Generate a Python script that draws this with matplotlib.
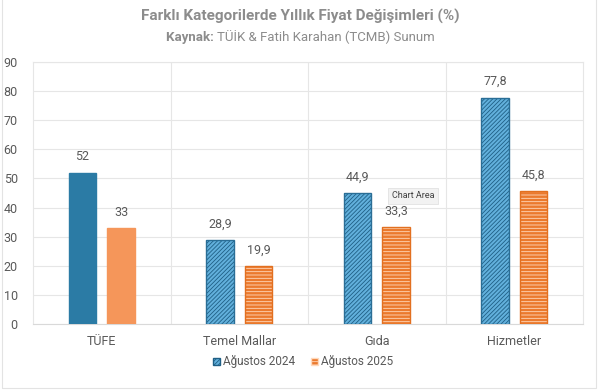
import matplotlib
matplotlib.use("Agg")
import matplotlib.pyplot as plt
import numpy as np
from matplotlib.patches import Patch, Rectangle

categories = ["TÜFE", "Temel Mallar", "Gıda", "Hizmetler"]
aug2024 = [52, 28.9, 44.9, 77.8]
aug2025 = [33, 19.9, 33.3, 45.8]
labels2024 = ["52", "28,9", "44,9", "77,8"]
labels2025 = ["33", "19,9", "33,3", "45,8"]
yticks = [0, 10, 20, 30, 40, 50, 60, 70, 80, 90]

plt.rcParams['font.family'] = ['Roboto', 'DejaVu Sans']
plt.rcParams['hatch.linewidth'] = 0.6

fig = plt.figure(figsize=(6, 3.9), dpi=100)
ax = fig.add_axes([0.055, 0.169, 0.917, 0.672])

x = np.arange(len(categories))
w = 0.2
off = 0.14

blue_solid = "#2B7BA5"
orange_solid = "#F5965A"
blue_hatch_face = "#62B0DC"
blue_hatch_line = "#1F5F85"
orange_hatch_face = "#EB7A2E"

for i in range(len(categories)):
    if i == 0:
        ax.bar(x[i] - off, aug2024[i], w, color=blue_solid, edgecolor=blue_solid, zorder=3)
        ax.bar(x[i] + off, aug2025[i], w, color=orange_solid, edgecolor=orange_solid, zorder=3)
    else:
        ax.bar(x[i] - off, aug2024[i], w, color=blue_hatch_face, edgecolor=blue_hatch_line,
               hatch="////////", linewidth=0, zorder=3)
        ax.bar(x[i] - off, aug2024[i], w, fill=False, edgecolor="#2A6E96", linewidth=1, zorder=4)
        ax.bar(x[i] + off, aug2025[i], w, color=orange_hatch_face, edgecolor="#FFD9BC",
               hatch="-----", linewidth=0, zorder=3)
        ax.bar(x[i] + off, aug2025[i], w, fill=False, edgecolor="#E27020", linewidth=1, zorder=4)
    ax.text(x[i] - off, aug2024[i] + 3.2, labels2024[i], ha="center", va="bottom",
            fontsize=9, color="#595959")
    ax.text(x[i] + off, aug2025[i] + 3.2, labels2025[i], ha="center", va="bottom",
            fontsize=9, color="#595959")

ax.set_xlim(-0.5, 3.5)
ax.set_ylim(0, 90)
ax.set_yticks(yticks)
ax.set_yticklabels([str(v) for v in yticks], fontsize=9, color="#595959")
ax.set_xticks(x)
ax.set_xticklabels(categories, fontsize=9, color="#595959")
ax.tick_params(length=0, pad=8)
ax.tick_params(axis='y', pad=11)
ax.grid(axis='y', color="#E6E6E6", linewidth=0.8, zorder=0)
for b in [0.5, 1.5, 2.5]:
    ax.axvline(b, color="#E6E6E6", linewidth=0.8, zorder=0)
for s in ["top", "right", "left"]:
    ax.spines[s].set_color("#E6E6E6")
ax.spines["bottom"].set_color("#D9D9D9")

fig.text(0.5, 0.957, "Farklı Kategorilerde Yıllık Fiyat Değişimleri (%)", ha="center", va="center",
         fontsize=11, fontweight="bold", color="#8C8C8C")
t1 = fig.text(0.5, 0.905, "Kaynak: ", ha="left", va="center", fontsize=9.5,
              fontweight="bold", color="#8C8C8C")
t2 = fig.text(0.5, 0.905, "TÜİK & Fatih Karahan (TCMB) Sunum", ha="left", va="center",
              fontsize=9.5, color="#8C8C8C")
fig.canvas.draw()
r = fig.canvas.get_renderer()
w1 = t1.get_window_extent(r).width
w2 = t2.get_window_extent(r).width
W = fig.bbox.width
start = (W - (w1 + w2)) / 2
t1.set_x(start / W)
t2.set_x((start + w1) / W)

ax.text(2.11, 44.0, "Chart Area", fontsize=6.5, color="#404040", ha="left", va="center",
        bbox=dict(boxstyle="square,pad=0.4", fc="#F2F2F2", ec="#DDDDDD", lw=0.5), zorder=6)

handles = [Patch(facecolor=blue_hatch_face, edgecolor=blue_hatch_line, hatch="////////"),
           Patch(facecolor=orange_hatch_face, edgecolor="#FFD9BC", hatch="-----")]
leg = fig.legend(handles, ["Ağustos 2024", "Ağustos 2025"], loc="center",
                 bbox_to_anchor=(0.505, 0.072), ncol=2, frameon=False, fontsize=8.5,
                 handlelength=0.6, handleheight=0.6, handletextpad=0.25, columnspacing=1.3)
for t in leg.get_texts():
    t.set_color("#595959")

fig.patches.append(Rectangle((0.004, 0.004), 0.99, 1.2, transform=fig.transFigure,
                             fill=False, edgecolor="#E3E3E3", linewidth=0.8, zorder=0))

fig.savefig("out.png", dpi=100)
